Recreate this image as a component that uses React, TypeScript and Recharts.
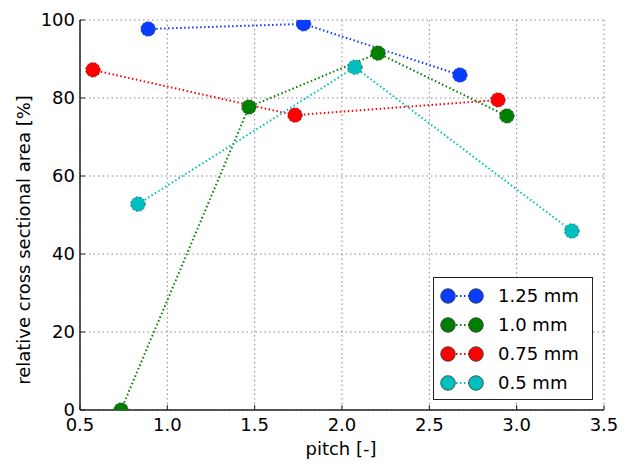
import { CartesianGrid, Legend, Line, LineChart, XAxis, YAxis } from "recharts";

// values (pitch [-], relative area [%])
const pitch125 = [0.89, 1.78, 2.675];
const area125 = [97.7, 99.0, 85.9];
const pitch100 = [0.735, 1.467, 2.206, 2.944];
const area100 = [0.0, 77.7, 91.5, 75.4];
const pitch075 = [0.574, 1.731, 2.893];
const area075 = [87.2, 75.6, 79.5];
const pitch050 = [0.832, 2.074, 3.316];
const area050 = [52.8, 87.9, 45.9];

const xTicks = [0.5, 1.0, 1.5, 2.0, 2.5, 3.0, 3.5];
const yTicks = [0, 20, 40, 60, 80, 100];

const FONT = "DejaVu Sans, sans-serif";
const FRAME = "#222";

const toPoints = (xs: number[], ys: number[]) =>
  xs.map((x, i) => ({ x, y: ys[i] }));

const series = [
  { name: "1.25 mm", color: "#0a3cff", data: toPoints(pitch125, area125) },
  { name: "1.0 mm", color: "#007f00", data: toPoints(pitch100, area100) },
  { name: "0.75 mm", color: "#ff0000", data: toPoints(pitch075, area075) },
  { name: "0.5 mm", color: "#00bfbf", data: toPoints(pitch050, area050) },
];

/* matplotlib-classic style ticks: drawn inward, labels outside */
function BottomTick({ x, y, payload }: any) {
  return (
    <g>
      <line x1={x} x2={x} y1={y} y2={y - 5} stroke={FRAME} />
      <text x={x} y={y + 21} textAnchor="middle" fontSize={18} fontFamily={FONT} fill="#000">
        {payload.value.toFixed(1)}
      </text>
    </g>
  );
}
function TopTick({ x, y }: any) {
  return <line x1={x} x2={x} y1={y} y2={y + 5} stroke={FRAME} />;
}
function LeftTick({ x, y, payload }: any) {
  return (
    <g>
      <line x1={x} x2={x + 5} y1={y} y2={y} stroke={FRAME} />
      <text x={x - 5} y={y + 6} textAnchor="end" fontSize={18} fontFamily={FONT} fill="#000">
        {payload.value}
      </text>
    </g>
  );
}
function RightTick({ x, y }: any) {
  return <line x1={x} x2={x - 5} y1={y} y2={y} stroke={FRAME} />;
}

function LegendBox() {
  return (
    <div
      style={{
        border: `1.5px solid ${FRAME}`,
        background: "#fff",
        width: 160,
        height: 123,
        boxSizing: "border-box",
        padding: "3px 0 0 6px",
        fontFamily: FONT,
        fontSize: 18,
      }}
    >
      {series.map((s) => (
        <div key={s.name} style={{ display: "flex", alignItems: "center", height: 29 }}>
          <svg width={50} height={18}>
            <line x1={8} x2={36} y1={9} y2={9} stroke={s.color} strokeWidth={2} strokeDasharray="1.5 2.5" />
            <circle cx={8} cy={9} r={7.3} fill={s.color} stroke="#333" strokeWidth={0.8} />
            <circle cx={36} cy={9} r={7.3} fill={s.color} stroke="#333" strokeWidth={0.8} />
          </svg>
          <span style={{ marginLeft: 8 }}>{s.name}</span>
        </div>
      ))}
    </div>
  );
}

export default function App() {
  return (
    <div style={{ position: "absolute", left: 0, top: 0, background: "#fff" }}>
      <LineChart
        width={635}
        height={463}
        margin={{ top: 20, right: 31, bottom: 0, left: 0 }}
      >
        <CartesianGrid stroke="#888" strokeDasharray="1.5 3" />
        <XAxis
          type="number"
          dataKey="x"
          domain={[0.5, 3.5]}
          ticks={xTicks}
          interval={0}
          height={53}
          tickSize={0}
          tickMargin={0}
          stroke={FRAME}
          strokeWidth={1.5}
          tick={<BottomTick />}
          allowDataOverflow
        />
        <XAxis
          xAxisId="top"
          orientation="top"
          type="number"
          dataKey="x"
          domain={[0.5, 3.5]}
          ticks={xTicks}
          interval={0}
          height={0}
          tickSize={0}
          tickMargin={0}
          stroke={FRAME}
          strokeWidth={1.5}
          tick={<TopTick />}
        />
        <YAxis
          type="number"
          dataKey="y"
          domain={[0, 100]}
          ticks={yTicks}
          interval={0}
          width={80}
          tickSize={0}
          tickMargin={0}
          stroke={FRAME}
          strokeWidth={1.5}
          tick={<LeftTick />}
          allowDataOverflow
        />
        <YAxis
          yAxisId="right"
          orientation="right"
          type="number"
          domain={[0, 100]}
          ticks={yTicks}
          interval={0}
          width={0}
          tickSize={0}
          tickMargin={0}
          stroke={FRAME}
          strokeWidth={1.5}
          tick={<RightTick />}
        />
        {/* vertical + centred + middle: Recharts reserves no space for it */}
        <Legend
          content={<LegendBox />}
          layout="vertical"
          align="center"
          verticalAlign="middle"
          wrapperStyle={{ position: "absolute", left: 433, top: 277, width: 160, height: 123 }}
        />
        {series.map((s) => (
          <Line
            key={s.name}
            name={s.name}
            data={s.data}
            dataKey="y"
            type="linear"
            stroke={s.color}
            strokeWidth={2}
            strokeDasharray="1.5 2.5"
            dot={{ r: 7.3, fill: s.color, stroke: "#333", strokeWidth: 0.8, fillOpacity: 1 }}
            activeDot={false}
            isAnimationActive={false}
          />
        ))}
        <text
          x={341}
          y={455}
          textAnchor="middle"
          fontSize={18}
          fontFamily={FONT}
          fill="#000"
        >
          pitch [-]
        </text>
        <g transform="translate(30, 240) rotate(-90)">
          <text x={0} y={0} textAnchor="middle" fontSize={18} fontFamily={FONT} fill="#000">
            relative cross sectional area [%]
          </text>
        </g>
      </LineChart>
    </div>
  );
}
